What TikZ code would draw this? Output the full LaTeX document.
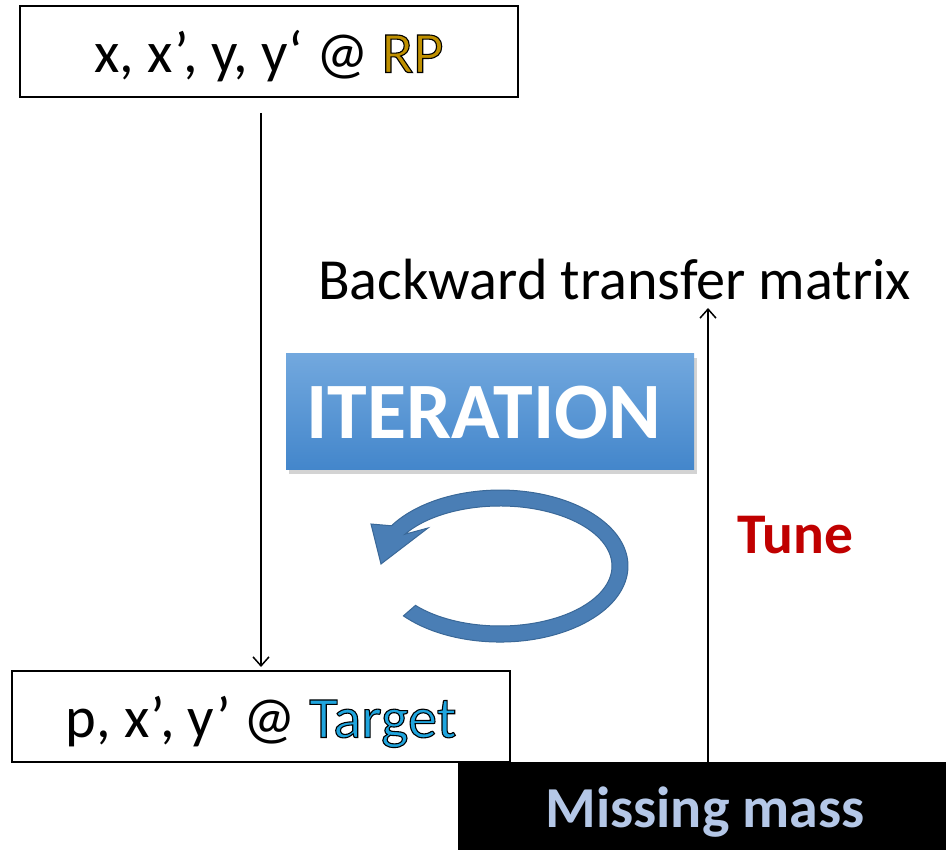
\documentclass[tikz,border=0pt]{standalone}
\usepackage{fontspec}
\setmainfont{Carlito}
\usetikzlibrary{arrows.meta,shadows}

\definecolor{rpgold}{HTML}{BF9000}
\definecolor{tgtblue}{HTML}{1FA5DE}
\definecolor{mmblue}{HTML}{B4C7E7}
\definecolor{tunered}{HTML}{C00000}
\definecolor{itertop}{HTML}{72A8DE}
\definecolor{iterbot}{HTML}{4386CB}
\definecolor{ringfill}{HTML}{4A7EB5}
\definecolor{ringline}{HTML}{3A6898}

% coloured letters with a thin black outline (fill + stroke text mode)
\newcommand\outlined[2]{{\color{#1}\special{pdf:literal direct 0 0 0 RG 2 Tr 1.1 w}#2\special{pdf:literal direct 0 Tr}}}

\begin{document}
\begin{tikzpicture}[x=1pt,y=1pt,
  boxtext/.style={font=\fontsize{58.5}{62}\selectfont, text height=42pt, text depth=0pt, inner sep=0pt},
  framebox/.style={boxtext, draw=black, line width=2pt, minimum width=498pt, minimum height=91pt},
  flow/.style={line width=1.5pt, -{Straight Barb[length=9pt,width=16pt,line width=1.5pt]}},
  iterbox/.style={top color=itertop, bottom color=iterbot, minimum width=408pt, minimum height=116pt,
    inner sep=0pt, text=white, font=\fontsize{80}{82}\selectfont\bfseries, text height=53pt, text depth=0pt,
    drop shadow={shadow xshift=3pt, shadow yshift=-4pt, opacity=0.35}},
  massbox/.style={fill=black, minimum width=488pt, minimum height=88pt, inner sep=0pt, text=mmblue,
    font=\fontsize{58}{62}\selectfont\bfseries, text height=43pt, text depth=0pt},
  label/.style={inner sep=0pt, anchor=base west}]
\useasboundingbox (0,0) rectangle (946,-850);

% boxes
\node[framebox] (rp) at (269,-51.5) {x, x’, y, y‘ @ \outlined{rpgold}{RP}};
\node[framebox] (target) at (261,-716.5) {p, x’, y’ @ \outlined{tgtblue}{Target}};
\node[massbox] (mm) at (702,-806) {\hspace*{6pt}Missing mass};

% labels
\node[label, font=\fontsize{58.2}{62}\selectfont] (btm) at (318,-300) {Backward transfer matrix};
\node[label, font=\fontsize{57.5}{62}\selectfont\bfseries, text=tunered] (tune) at (737,-553) {Tune};

% iteration badge
\node[iterbox] (iter) at (490,-412) {ITERATION\hspace*{12pt}};

% circular arrow
\filldraw[fill=ringfill, draw=ringline, line width=1pt]
  (403.4,-615.9) arc[start angle=-139, end angle=148, x radius=128, y radius=76]
  -- (371,-524) -- (381,-564) -- (428,-528)
  -- (405.0,-534.2) arc[start angle=148, end angle=-139, x radius=112, y radius=60]
  -- cycle;

% connectors
\draw[flow, shorten <=15pt, shorten >=3pt] (rp.south -| target.north) -- (target.north);
\coordinate (tip) at (708,-308);
\draw[flow] (mm.north -| tip) -- (tip);
\end{tikzpicture}
\end{document}
